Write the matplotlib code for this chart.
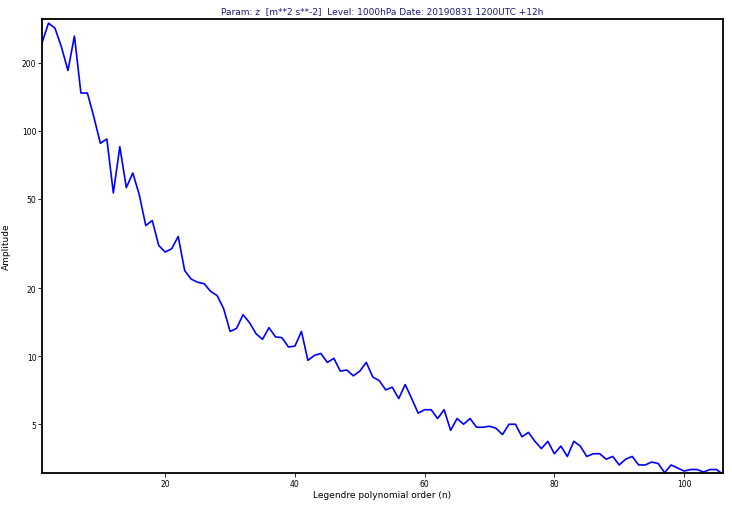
import matplotlib
matplotlib.use("Agg")
import matplotlib.pyplot as plt
from matplotlib.ticker import FixedLocator, FixedFormatter, NullLocator

n = list(range(1, 107))
amplitude = [245, 300, 285, 235, 185, 263, 147, 147, 115, 88,
             92, 53, 85, 56, 65, 52, 38, 40, 31, 29,
             30, 34, 24, 22, 21.3, 21, 19.4, 18.6, 16.3, 12.9,
             13.3, 15.3, 14.1, 12.6, 11.9, 13.4, 12.2, 12.1, 11, 11.1,
             12.9, 9.6, 10.1, 10.3, 9.4, 9.8, 8.6, 8.7, 8.2, 8.6,
             9.4, 8.1, 7.8, 7.1, 7.3, 6.5, 7.5, 6.5, 5.6, 5.8,
             5.8, 5.3, 5.8, 4.7, 5.3, 5.0, 5.3, 4.85, 4.85, 4.9,
             4.8, 4.5, 5.0, 5.0, 4.4, 4.6, 4.2, 3.9, 4.2, 3.7,
             4.0, 3.6, 4.2, 4.0, 3.6, 3.7, 3.7, 3.5, 3.6, 3.3,
             3.5, 3.6, 3.3, 3.3, 3.4, 3.35, 3.05, 3.3, 3.2, 3.1,
             3.15, 3.15, 3.07, 3.15, 3.15, 3.0]
yticks = [5, 10, 20, 50, 100, 200]
xticks = [20, 40, 60, 80, 100]

fig = plt.figure(figsize=(7.32, 5.06), dpi=100)
ax = fig.add_axes([42/732, 1-474/506, (723-42)/732, (474-20)/506])
ax.plot(n, amplitude, color="#0000ff", lw=1.2)
ax.set_yscale("log")
ax.set_xlim(1, 106)
ax.set_ylim(3.04, 313)
ax.yaxis.set_major_locator(FixedLocator(yticks))
ax.yaxis.set_major_formatter(FixedFormatter([str(v) for v in yticks]))
ax.yaxis.set_minor_locator(NullLocator())
ax.set_xticks(xticks)
ax.tick_params(labelsize=5.5, length=3, width=0.6, pad=1)
for s in ax.spines.values():
    s.set_linewidth(1.3)
ax.set_xlabel("Legendre polynomial order (n)", fontsize=6.5, labelpad=2)
ax.set_ylabel("Amplitude", fontsize=6.5, labelpad=8)
ax.set_title("Param: z  [m**2 s**-2]  Level: 1000hPa Date: 20190831 1200UTC +12h",
             fontsize=6.5, color="#1a1a80", pad=4)
fig.savefig("out.png", dpi=100)
